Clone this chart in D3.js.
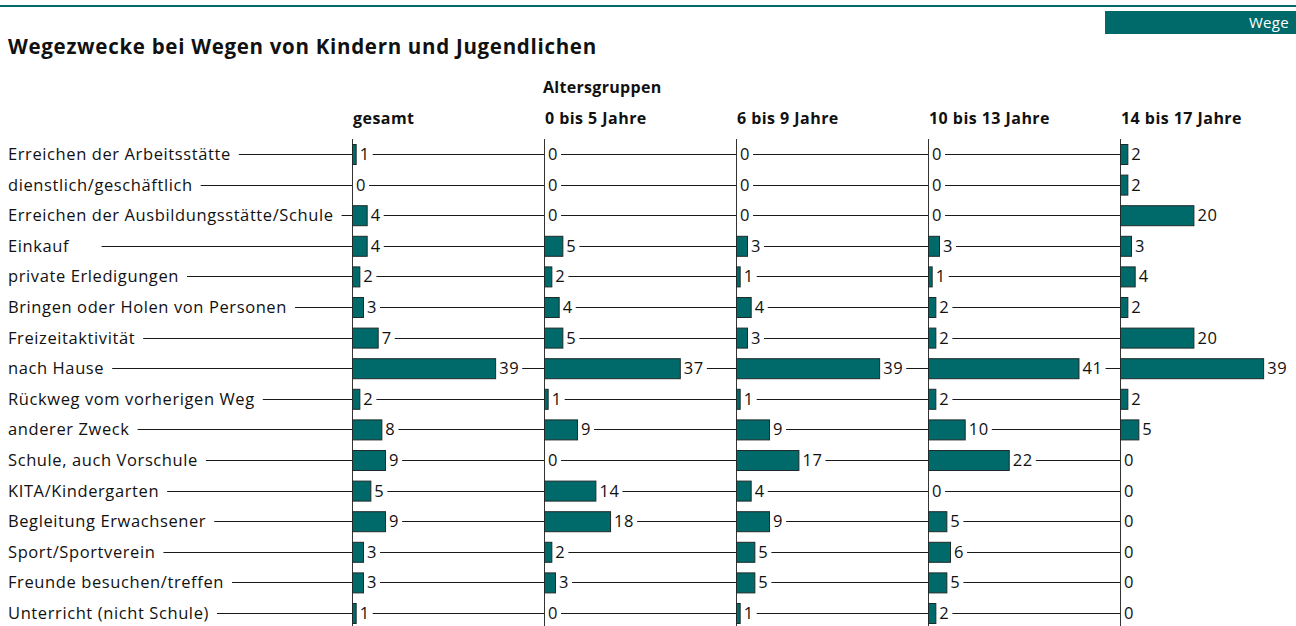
<!DOCTYPE html>
<html lang="de">
<head>
<meta charset="utf-8">
<script src="https://cdn.jsdelivr.net/npm/d3@7"></script>
<style>
  html, body { margin: 0; padding: 0; background: #fff; }
  svg { display: block; font-family: "Open Sans", "Noto Sans", sans-serif; }
  .lbl { white-space: pre; }
  .txt { font-size: 16.5px; letter-spacing: 0.6px; fill: #111; }
  .head { font-size: 16px; font-weight: 700; letter-spacing: 0.45px; fill: #111; }
</style>
</head>
<body>
<svg id="chart" width="1296" height="626"></svg>
<script>
// Wegezwecke (Anteile in %) nach Altersgruppe
const categories = [
  "Erreichen der Arbeitsstätte",
  "dienstlich/geschäftlich",
  "Erreichen der Ausbildungsstätte/Schule",
  "Einkauf     ",
  "private Erledigungen",
  "Bringen oder Holen von Personen",
  "Freizeitaktivität",
  "nach Hause",
  "Rückweg vom vorherigen Weg",
  "anderer Zweck",
  "Schule, auch Vorschule",
  "KITA/Kindergarten",
  "Begleitung Erwachsener",
  "Sport/Sportverein",
  "Freunde besuchen/treffen",
  "Unterricht (nicht Schule)"
];
const groups = ["gesamt", "0 bis 5 Jahre", "6 bis 9 Jahre", "10 bis 13 Jahre", "14 bis 17 Jahre"];
const valuesGesamt = [1, 0, 4, 4, 2, 3, 7, 39, 2, 8, 9, 5, 9, 3, 3, 1];
const values0to5   = [0, 0, 0, 5, 2, 4, 5, 37, 1, 9, 0, 14, 18, 2, 3, 0];
const values6to9   = [0, 0, 0, 3, 1, 4, 3, 39, 1, 9, 17, 4, 9, 5, 5, 1];
const values10to13 = [0, 0, 0, 3, 1, 2, 2, 41, 2, 10, 22, 0, 5, 6, 5, 2];
const values14to17 = [2, 2, 20, 3, 4, 2, 20, 39, 2, 5, 0, 0, 0, 0, 0, 0];
const series = [valuesGesamt, values0to5, values6to9, values10to13, values14to17];

const title = "Wegezwecke bei Wegen von Kindern und Jugendlichen";
const groupTitle = "Altersgruppen";
const tag = "Wege";

const teal = "#006a6a";
const svg = d3.select("#chart");

// Kopfzeile
svg.append("rect").attr("x", 0).attr("y", 5).attr("width", 1296).attr("height", 2).attr("fill", teal);
svg.append("rect").attr("x", 1105).attr("y", 11).attr("width", 191).attr("height", 23).attr("fill", teal);
svg.append("text").attr("x", 1289).attr("y", 28).attr("text-anchor", "end")
  .attr("fill", "#fff").attr("font-size", 15).attr("letter-spacing", 0.3).text(tag);
svg.append("text").attr("x", 8).attr("y", 54).attr("font-size", 20.5).attr("font-weight", 700)
  .attr("letter-spacing", 0.7).attr("fill", "#111").text(title);

// Skalen
const panelX = d3.scalePoint().domain(groups).range([352, 1120]);
const y = d3.scalePoint().domain(categories).range([154, 613]);
const x = d3.scaleLinear().domain([0, 40]).range([0, 146.8]);
const barH = 20;

svg.append("text").attr("class", "head").attr("x", panelX(groups[1]) - 1).attr("y", 93)
  .style("letter-spacing", "0.3px").text(groupTitle);

svg.selectAll("text.ghead").data(groups).join("text").attr("class", "ghead head")
  .attr("x", d => panelX(d) + 1).attr("y", 124).text(d => d);

const lines = svg.append("g").attr("stroke", "#1a1a1a").attr("stroke-width", 1);

// Zeilenbeschriftungen
const rowLabels = svg.selectAll("text.row").data(categories).join("text").attr("class", "row lbl txt")
  .attr("x", 8).attr("y", d => y(d)).attr("dy", "0.36em").text(d => d);

rowLabels.each(function (d) {
  const w = this.getComputedTextLength();
  lines.append("line")
    .attr("x1", 8 + w + 8).attr("x2", panelX(groups[0]))
    .attr("y1", Math.round(y(d)) + 0.5).attr("y2", Math.round(y(d)) + 0.5);
});

// Grundlinien der Panels
svg.append("g").selectAll("line").data(groups).join("line")
  .attr("x1", d => panelX(d) + 0.5).attr("x2", d => panelX(d) + 0.5)
  .attr("y1", 139).attr("y2", 626)
  .attr("stroke", "#333").attr("stroke-width", 1);

// Balken, Werte und Verbindungslinien
groups.forEach((g, gi) => {
  const x0 = panelX(g);
  const vals = series[gi];
  const panel = svg.append("g");
  panel.selectAll("rect").data(categories).join("rect")
    .attr("x", x0 + 0.5)
    .attr("y", d => y(d) - barH / 2 + 0.5)
    .attr("width", (d, i) => vals[i] > 0 ? x(vals[i]) : 0)
    .attr("height", barH)
    .attr("fill", teal).attr("stroke", "#1f2a2a").attr("stroke-width", 1)
    .style("display", (d, i) => vals[i] > 0 ? null : "none");

  panel.selectAll("text").data(categories).join("text").attr("class", "txt")
    .attr("x", (d, i) => x0 + x(vals[i]) + 4)
    .attr("y", d => y(d)).attr("dy", "0.36em")
    .text((d, i) => vals[i])
    .each(function (d, i) {
      if (gi === groups.length - 1) return;
      const xs = x0 + x(vals[i]) + 4 + this.getComputedTextLength() + 3;
      lines.append("line")
        .attr("x1", xs).attr("x2", panelX(groups[gi + 1]))
        .attr("y1", Math.round(y(d)) + 0.5).attr("y2", Math.round(y(d)) + 0.5);
    });
});
</script>
</body>
</html>
